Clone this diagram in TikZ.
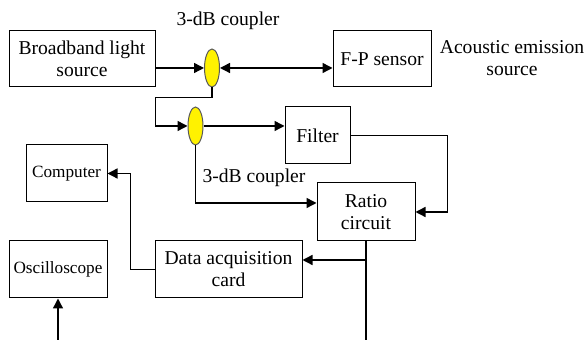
\documentclass[tikz,border=0pt]{standalone}
\usepackage{fontspec}
\setmainfont{Liberation Serif}
\usetikzlibrary{arrows.meta,shapes.geometric,positioning}

\begin{document}
\begin{tikzpicture}[
  x=0.5pt, y=-0.5pt,
  box/.style={
    draw,
    line width=0.5pt,
    align=center,
    inner sep=0pt,
    font=\fontsize{9.8}{11}\selectfont
  },
  smallbox/.style={box, font=\fontsize{8.6}{10}\selectfont},
  coupler/.style={
    ellipse,
    draw=black!65,
    fill=yellow,
    line width=0.5pt,
    inner sep=0pt,
    minimum width=7.5pt,
    minimum height=19pt
  },
  lbl/.style={align=center, inner sep=0pt, font=\fontsize{9.8}{11}\selectfont},
  arrow/.style={-{Triangle[length=5pt,width=5pt]}, line width=0.7pt},
  dblarrow/.style={{Triangle[length=5pt,width=5pt]}-{Triangle[length=5pt,width=5pt]}, line width=0.7pt},
  line/.style={line width=0.7pt}
]
  \useasboundingbox (0,0) rectangle (587,340);

  \node[box, minimum width=73pt, minimum height=28pt] (src) at (82,59) {Broadband light\\source};
  \node[coupler] (cp1) at (212,68) {};
  \node[box, minimum width=49pt, minimum height=28pt] (fp) at (382,59) {F-P sensor};
  \node[lbl] (ae) at (512,58) {Acoustic emission\\source};
  \node[lbl] (cplA) at (228,21) {3-dB coupler};

  \node[coupler] (cp2) at (195.5,126) {};
  \node[box, minimum width=32.5pt, minimum height=28.5pt] (filt) at (317.5,135.5) {Filter};
  \node[lbl] (cplB) at (254,178) {3-dB coupler};
  \node[box, minimum width=49pt, minimum height=29pt] (ratio) at (366,212) {Ratio\\circuit};

  \node[smallbox, minimum width=40.5pt, minimum height=28.5pt] (comp) at (66.5,173.5) {Computer};
  \node[box, minimum width=73.5pt, minimum height=28.5pt] (dac) at (228.5,269.5) {Data acquisition\\card};
  \node[smallbox, minimum width=49pt, minimum height=28.5pt] (osc) at (58,269.5) {Oscilloscope};

  \coordinate (ratioout) at (366,340);
  \coordinate (oscin) at (58,340);
  \coordinate (ratioin) at ([yshift=4.5pt]ratio.west);
  \coordinate (dacin) at ([yshift=4.75pt]dac.east);

  \draw[arrow] (src.east |- cp1) -- (cp1);
  \draw[dblarrow] (cp1) -- (cp1 -| fp.west);
  \draw[arrow] (cp1.south) -- ++(0,10) -| (src.east |- cp2) -- (cp2);
  \draw[arrow] (cp2) -- (cp2 -| filt.west);
  \draw[arrow] (filt.east) -- ++(97,0) |- (ratio.east);
  \draw[arrow] (cp2.south) |- (ratioin);
  \draw[line] (ratio.south) -- (ratioout);
  \draw[arrow] (ratio.south |- dacin) -- (dacin);
  \draw[arrow] (dac.west) -- ++(-24,0) |- (comp.east);
  \draw[arrow] (oscin) -- (osc.south);
\end{tikzpicture}
\end{document}
